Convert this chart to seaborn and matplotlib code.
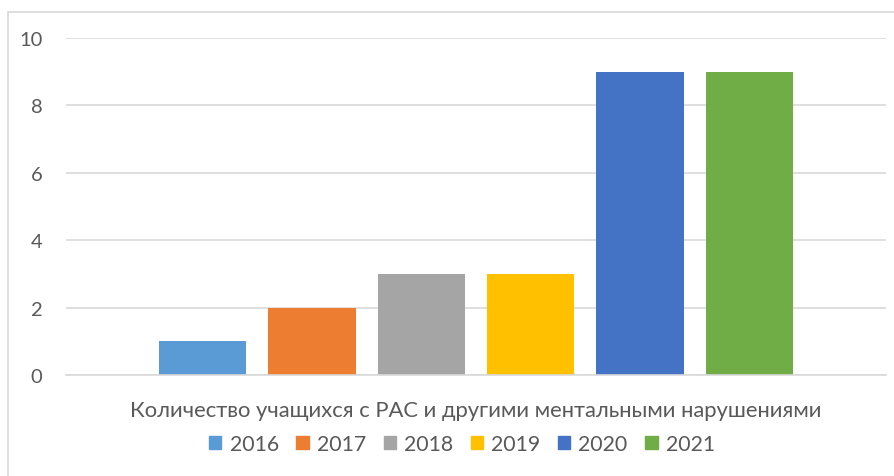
import pandas as pd
import matplotlib.pyplot as plt
import seaborn as sns
from matplotlib.lines import Line2D

# data
category = ["Количество учащихся с РАС и другими ментальными нарушениями"]
years = ["2016", "2017", "2018", "2019", "2020", "2021"]
counts = [1, 2, 3, 3, 9, 9]
colors = ["#5B9BD5", "#ED7D31", "#A5A5A5", "#FFC000", "#4472C4", "#70AD47"]

df = pd.DataFrame({"cat": category * len(years), "year": years, "count": counts})

sns.set_style("white")
plt.rcParams["font.family"] = ["Lato", "DejaVu Sans"]
text_color = "#595959"

fig = plt.figure(figsize=(8.95, 4.77), dpi=100)
ax = fig.add_axes([66 / 895, 1 - 376 / 477, 820 / 895, 337 / 477])

sns.barplot(data=df, x="cat", y="count", hue="year", palette=colors,
            width=0.8, gap=0.2, ax=ax, legend=True, saturation=1, linewidth=0)

ax.set_xlim(-0.5, 0.5)
ax.set_ylim(0, 10)
ax.set_yticks([0, 2, 4, 6, 8, 10])
ax.yaxis.grid(True, color="#D9D9D9", linewidth=1.2)
ax.set_axisbelow(True)
for s in ["top", "right", "left"]:
    ax.spines[s].set_visible(False)
ax.spines["bottom"].set_color("#D9D9D9")
ax.spines["bottom"].set_linewidth(1.2)
ax.tick_params(axis="y", length=0, pad=17, labelsize=14.5, labelcolor=text_color)
ax.tick_params(axis="x", length=0, pad=18, labelsize=15.8, labelcolor=text_color)
ax.set_xlabel("")
ax.set_ylabel("")

ax.get_legend().remove()
handles = [plt.Rectangle((0, 0), 1, 1, color=c) for c in colors]
fig.legend(handles, years, loc="center", bbox_to_anchor=(462 / 895, 1 - 445 / 477),
           ncol=6, frameon=False, fontsize=15.3, labelcolor=text_color,
           handlelength=0.58, handleheight=0.58, handletextpad=0.38, columnspacing=0.83)

# outer chart frame (partly visible)
fig.add_artist(Line2D([8 / 895, 1], [1 - 13 / 477, 1 - 13 / 477], color="#D9D9D9", linewidth=1.2))
fig.add_artist(Line2D([8 / 895, 8 / 895], [0, 1 - 13 / 477], color="#D9D9D9", linewidth=1.2))

fig.savefig("out.png", dpi=100)
